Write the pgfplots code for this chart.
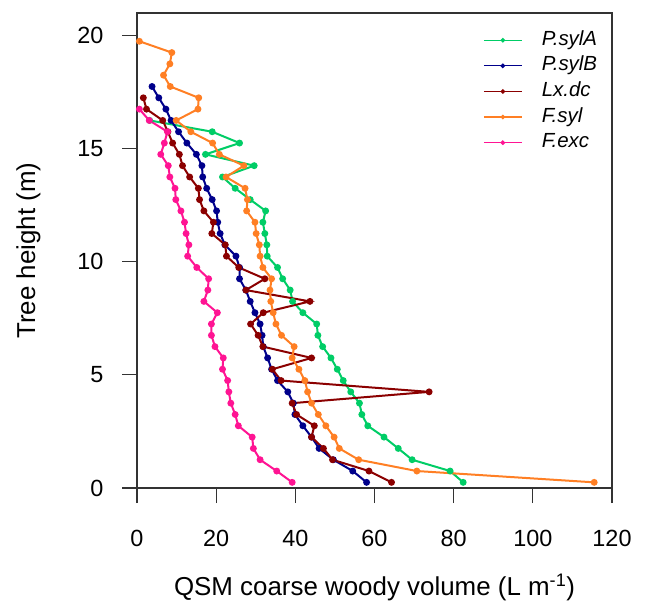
\documentclass[border=0pt]{standalone}
\usepackage{pgfplots}
\pgfplotsset{compat=1.18}
\usepackage{fontspec}
\setmainfont{Liberation Sans}

\definecolor{psylA}{RGB}{0,205,102}
\definecolor{psylB}{RGB}{0,0,139}
\definecolor{lxdc}{RGB}{139,0,0}
\definecolor{fsyl}{RGB}{255,127,36}
\definecolor{fexc}{RGB}{255,20,147}

\begin{document}
\begin{tikzpicture}
\useasboundingbox (0,0) rectangle (646bp,609bp);
\begin{axis}[
	at={(137bp,121bp)}, anchor=south west,
	width=475bp, height=475bp, scale only axis,
	xmin=0, xmax=120, ymin=0, ymax=21,
	xtick={0,20,...,120}, ytick={0,5,...,20},
	tick pos=left, tick align=outside, major tick length=15bp,
	axis line style={line width=1.1bp, black!80},
	every tick/.style={line width=1.1bp, black!80},
	/pgf/number format/assume math mode=true,
	ticklabel style={font=\fontsize{23.5}{28}\selectfont},
	xticklabel style={yshift=-24bp},
	yticklabel style={xshift=-15bp},
	label style={font=\fontsize{26}{30}\selectfont},
	xlabel={QSM coarse woody volume (L m\textsuperscript{-1})},
	ylabel={Tree height (m)},
	xlabel style={at={(axis description cs:0.5,-0.2084)}, anchor=center},
	ylabel style={at={(axis description cs:-0.2284,0.5)}, anchor=center},
	every axis plot/.append style={line width=2bp, mark=*, mark size=2.4bp},
	legend image code/.code={
		\draw[mark repeat=2, mark phase=2, #1, line width=1.3bp, mark size=1.6bp]
		plot coordinates {(0bp,0bp) (19bp,0bp) (38bp,0bp)};
		\path (48bp,0bp);},
	legend cell align=left,
	legend style={at={(axis description cs:0.7284,0.962)}, anchor=north west,
		draw=none, fill=none, inner sep=0pt, row sep=7.6bp,
		font=\fontsize{20.5}{24}\selectfont\itshape,
		nodes={inner ysep=0pt, inner xsep=9bp, text height=14bp, text depth=4bp}},
]
% P.sylA
\addplot[color=psylA, mark options={fill=psylA}] table {
3.2 16.25
19.0 15.75
25.9 15.25
17.3 14.75
29.6 14.25
21.6 13.75
24.8 13.25
28.6 12.75
32.5 12.25
31.8 11.75
32.3 11.25
32.8 10.75
32.9 10.25
35.5 9.75
36.8 9.25
38.7 8.75
39.3 8.25
41.9 7.75
45.4 7.25
45.7 6.75
46.9 6.25
49.0 5.75
50.6 5.25
52.1 4.75
54.0 4.25
56.2 3.75
56.8 3.25
58.3 2.75
62.4 2.25
66.0 1.75
69.5 1.25
79.1 0.75
82.4 0.25
};
% P.sylB
\addplot[color=psylB, mark options={fill=psylB}] table {
3.8 17.75
5.5 17.25
7.3 16.75
8.6 16.25
10.5 15.75
12.6 15.25
15.0 14.75
16.4 14.25
16.6 13.75
17.6 13.25
19.0 12.75
20.1 12.25
20.4 11.75
21.0 11.25
22.2 10.75
25.0 10.25
25.9 9.75
25.9 9.25
27.5 8.75
28.6 8.25
29.8 7.75
31.1 7.25
31.6 6.75
31.9 6.25
33.0 5.75
34.0 5.25
35.5 4.75
38.1 4.25
39.5 3.75
39.9 3.25
41.9 2.75
44.1 2.25
46.0 1.75
49.6 1.25
54.5 0.75
58.0 0.25
};
% Lx.dc
\addplot[color=lxdc, mark options={fill=lxdc}] table {
1.6 17.25
2.4 16.75
6.5 16.25
7.8 15.75
9.0 15.25
10.7 14.75
11.5 14.25
13.3 13.75
15.5 13.25
15.8 12.75
16.9 12.25
19.3 11.75
18.9 11.25
22.3 10.75
22.6 10.25
25.7 9.75
32.3 9.25
27.5 8.75
43.7 8.25
31.9 7.75
28.7 7.25
30.6 6.75
31.8 6.25
44.1 5.75
34.2 5.25
36.4 4.75
73.8 4.25
39.2 3.75
40.3 3.25
44.8 2.75
44.1 2.25
47.1 1.75
49.4 1.25
58.6 0.75
64.3 0.25
};
% F.syl
\addplot[color=fsyl, mark options={fill=fsyl}] table {
0.6 19.75
8.8 19.25
8.3 18.75
6.7 18.25
8.4 17.75
15.6 17.25
15.4 16.75
9.9 16.25
13.6 15.75
19.1 15.25
20.8 14.75
27.0 14.25
22.5 13.75
27.3 13.25
27.9 12.75
27.7 12.25
29.8 11.75
30.1 11.25
30.9 10.75
31.1 10.25
31.8 9.75
34.0 9.25
33.6 8.75
33.8 8.25
34.4 7.75
35.1 7.25
36.5 6.75
39.7 6.25
39.2 5.75
40.9 5.25
42.4 4.75
43.1 4.25
44.1 3.75
45.8 3.25
47.7 2.75
49.8 2.25
51.1 1.75
56.0 1.25
70.7 0.75
115.5 0.25
};
% F.exc
\addplot[color=fexc, mark options={fill=fexc}] table {
0.6 16.75
3.1 16.25
7.7 15.75
6.9 15.25
6.0 14.75
7.9 14.25
8.3 13.75
9.6 13.25
9.8 12.75
11.1 12.25
12.0 11.75
12.4 11.25
13.1 10.75
12.8 10.25
15.1 9.75
18.1 9.25
17.9 8.75
16.9 8.25
20.3 7.75
18.8 7.25
18.8 6.75
19.7 6.25
21.8 5.75
21.6 5.25
22.9 4.75
23.2 4.25
23.7 3.75
24.8 3.25
25.6 2.75
29.1 2.25
29.4 1.75
31.1 1.25
35.3 0.75
39.2 0.25
};
\legend{P.sylA, P.sylB, Lx.dc, F.syl, F.exc}
\end{axis}
\end{tikzpicture}
\end{document}
